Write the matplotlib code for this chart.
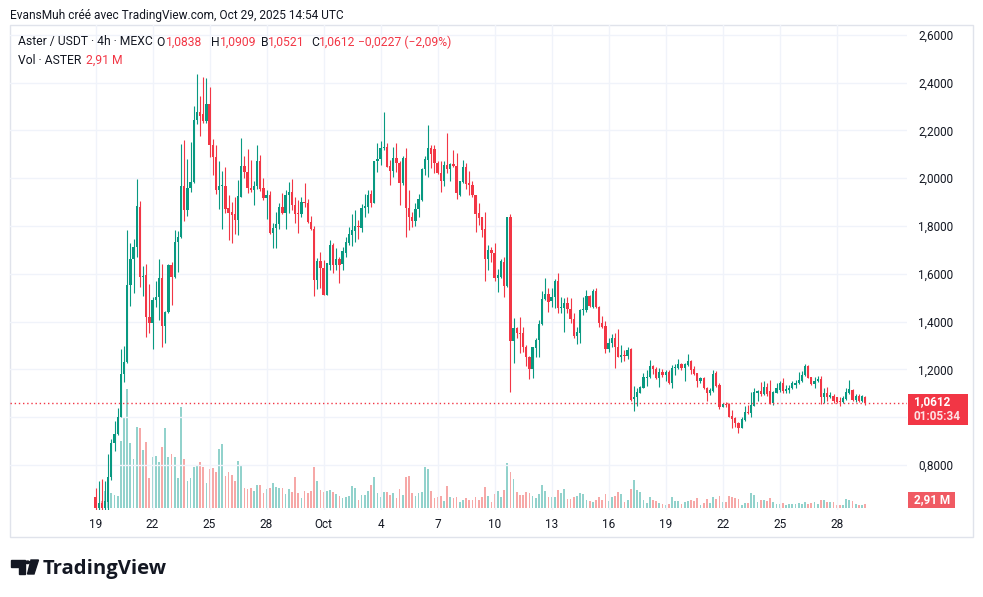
import numpy as np
import matplotlib
matplotlib.use("Agg")
import matplotlib.pyplot as plt
from matplotlib.patches import Rectangle, Polygon, Circle

plt.rcParams['font.family'] = ['Roboto', 'DejaVu Sans']

W, H = 983, 597
UP, DOWN = "#089981", "#F23645"
VOL_UP, VOL_DOWN = "#26A69A", "#EF5350"
TXT = "#131722"
GRID = "#F0F3FA"

# 4h candles, Sep 19 00:00 UTC -> Oct 29 12:00 UTC (MEXC ASTER/USDT)
opens = [
    0.668, 0.620, 0.640, 0.620, 0.647, 0.748, 0.891, 0.930, 1.003, 1.180,
    1.230, 1.554, 1.661, 1.711, 1.880, 1.588, 1.595, 1.418, 1.396, 1.491,
    1.502, 1.581, 1.383, 1.442, 1.637, 1.586, 1.734, 1.753, 1.968, 1.865,
    1.958, 1.985, 2.244, 2.275, 2.269, 2.241, 2.311, 2.139, 2.090, 1.951,
    1.968, 1.968, 1.874, 1.860, 1.850, 1.826, 1.923, 2.051, 2.024, 1.961,
    1.951, 1.968, 2.070, 1.961, 1.919, 1.930, 1.770, 1.791, 1.809, 1.880,
    1.853, 1.930, 1.943, 1.888, 1.856, 1.849, 1.901, 1.895, 1.816, 1.789,
    1.575, 1.654, 1.623, 1.512, 1.637, 1.721, 1.637, 1.661, 1.641, 1.689,
    1.731, 1.763, 1.781, 1.800, 1.793, 1.877, 1.879, 1.934, 1.898, 2.070,
    2.081, 2.127, 2.132, 2.052, 2.032, 2.084, 2.065, 1.979, 2.084, 1.877,
    1.839, 1.823, 1.870, 1.909, 2.038, 2.077, 2.125, 2.121, 2.065, 2.021,
    1.990, 2.056, 2.038, 2.060, 2.051, 1.930, 1.986, 2.045, 1.979, 1.972,
    1.930, 1.853, 1.836, 1.786, 1.662, 1.700, 1.689, 1.584, 1.588, 1.651,
    1.551, 1.839, 1.321, 1.375, 1.351, 1.354, 1.296, 1.254, 1.201, 1.290,
    1.323, 1.389, 1.495, 1.516, 1.488, 1.502, 1.568, 1.456, 1.456, 1.477,
    1.452, 1.410, 1.340, 1.354, 1.449, 1.449, 1.508, 1.463, 1.530, 1.463,
    1.396, 1.382, 1.284, 1.310, 1.332, 1.293, 1.254, 1.261, 1.258, 1.284,
    1.075, 1.084, 1.103, 1.124, 1.165, 1.167, 1.215, 1.201, 1.163, 1.188,
    1.177, 1.188, 1.145, 1.205, 1.205, 1.223, 1.205, 1.219, 1.236, 1.201,
    1.184, 1.153, 1.163, 1.121, 1.103, 1.111, 1.184, 1.135, 1.044, 1.054,
    1.054, 1.005, 0.996, 0.975, 0.957, 0.989, 1.022, 1.017, 1.047, 1.103,
    1.110, 1.096, 1.128, 1.110, 1.061, 1.103, 1.114, 1.145, 1.110, 1.114,
    1.121, 1.135, 1.142, 1.153, 1.177, 1.215, 1.170, 1.139, 1.153, 1.161,
    1.086, 1.103, 1.084, 1.089, 1.084, 1.070, 1.065, 1.075, 1.103, 1.114,
    1.072, 1.089, 1.070, 1.0838,
]
highs = [
    0.706, 0.735, 0.742, 0.735, 0.846, 0.908, 0.984, 1.038, 1.284, 1.298,
    1.784, 1.731, 1.746, 1.997, 1.905, 1.634, 1.641, 1.558, 1.505, 1.568,
    1.662, 1.641, 1.446, 1.641, 1.648, 1.784, 1.781, 2.143, 2.160, 2.081,
    2.153, 2.303, 2.436, 2.344, 2.425, 2.418, 2.383, 2.164, 2.139, 2.072,
    2.031, 2.049, 1.930, 1.902, 1.923, 1.993, 2.167, 2.093, 2.121, 2.077,
    1.990, 2.139, 2.098, 2.000, 1.951, 1.948, 1.812, 1.860, 1.895, 1.937,
    1.951, 1.986, 1.997, 1.923, 1.909, 1.923, 1.982, 1.912, 1.840, 1.802,
    1.665, 1.690, 1.658, 1.647, 1.742, 1.728, 1.707, 1.672, 1.714, 1.753,
    1.798, 1.851, 1.867, 1.825, 1.893, 1.934, 1.951, 1.951, 2.070, 2.146,
    2.157, 2.279, 2.146, 2.077, 2.130, 2.149, 2.074, 2.091, 2.125, 1.951,
    1.860, 1.895, 1.933, 2.042, 2.093, 2.223, 2.139, 2.139, 2.074, 2.070,
    2.070, 2.191, 2.063, 2.118, 2.104, 1.990, 2.077, 2.065, 2.031, 1.990,
    1.930, 1.895, 1.839, 1.860, 1.721, 1.714, 1.731, 1.619, 1.661, 1.669,
    1.839, 1.851, 1.417, 1.379, 1.421, 1.379, 1.303, 1.257, 1.296, 1.333,
    1.407, 1.530, 1.581, 1.540, 1.540, 1.577, 1.605, 1.502, 1.498, 1.502,
    1.498, 1.435, 1.379, 1.452, 1.502, 1.533, 1.512, 1.535, 1.540, 1.466,
    1.424, 1.404, 1.330, 1.349, 1.351, 1.368, 1.302, 1.282, 1.293, 1.289,
    1.131, 1.121, 1.131, 1.184, 1.198, 1.240, 1.219, 1.212, 1.205, 1.202,
    1.198, 1.198, 1.219, 1.223, 1.243, 1.229, 1.226, 1.265, 1.240, 1.215,
    1.187, 1.170, 1.167, 1.128, 1.121, 1.198, 1.195, 1.142, 1.059, 1.065,
    1.059, 1.031, 1.003, 0.982, 1.003, 1.045, 1.051, 1.107, 1.121, 1.114,
    1.149, 1.152, 1.142, 1.156, 1.111, 1.142, 1.153, 1.163, 1.135, 1.135,
    1.153, 1.156, 1.189, 1.195, 1.223, 1.219, 1.170, 1.167, 1.173, 1.173,
    1.121, 1.125, 1.107, 1.098, 1.086, 1.086, 1.089, 1.121, 1.156, 1.117,
    1.096, 1.098, 1.093, 1.0909,
]
lows = [
    0.600, 0.600, 0.600, 0.600, 0.600, 0.738, 0.860, 0.926, 1.000, 1.149,
    1.226, 1.467, 1.521, 1.672, 1.547, 1.508, 1.335, 1.354, 1.284, 1.463,
    1.407, 1.296, 1.309, 1.438, 1.470, 1.584, 1.609, 1.749, 1.823, 1.844,
    1.944, 1.979, 2.227, 2.177, 2.233, 2.230, 2.090, 2.014, 1.934, 1.871,
    1.788, 1.856, 1.742, 1.731, 1.767, 1.763, 1.920, 2.000, 1.937, 1.944,
    1.888, 1.954, 1.948, 1.909, 1.831, 1.767, 1.706, 1.710, 1.786, 1.851,
    1.786, 1.853, 1.867, 1.814, 1.772, 1.839, 1.881, 1.812, 1.784, 1.508,
    1.535, 1.542, 1.512, 1.510, 1.616, 1.605, 1.616, 1.563, 1.616, 1.672,
    1.721, 1.717, 1.735, 1.746, 1.777, 1.839, 1.853, 1.879, 1.895, 2.028,
    2.056, 2.116, 2.046, 1.972, 2.007, 2.024, 1.888, 1.972, 1.756, 1.784,
    1.798, 1.800, 1.839, 1.906, 2.014, 2.004, 2.044, 2.021, 2.018, 1.944,
    1.968, 2.021, 1.990, 2.046, 1.912, 1.926, 1.982, 1.954, 1.930, 1.923,
    1.773, 1.805, 1.756, 1.572, 1.614, 1.651, 1.572, 1.526, 1.581, 1.505,
    1.547, 1.107, 1.226, 1.330, 1.268, 1.275, 1.215, 1.160, 1.166, 1.250,
    1.254, 1.386, 1.491, 1.442, 1.460, 1.456, 1.438, 1.438, 1.358, 1.435,
    1.393, 1.330, 1.305, 1.312, 1.428, 1.442, 1.460, 1.456, 1.456, 1.376,
    1.375, 1.268, 1.275, 1.293, 1.208, 1.251, 1.233, 1.237, 1.242, 1.070,
    1.028, 1.045, 1.100, 1.121, 1.131, 1.163, 1.181, 1.159, 1.128, 1.170,
    1.153, 1.139, 1.121, 1.177, 1.201, 1.198, 1.153, 1.215, 1.181, 1.177,
    1.128, 1.145, 1.118, 1.070, 1.093, 1.107, 1.128, 1.033, 1.042, 1.042,
    1.003, 0.957, 0.961, 0.936, 0.954, 0.986, 1.014, 1.003, 1.045, 1.070,
    1.091, 1.093, 1.089, 1.056, 1.051, 1.100, 1.107, 1.103, 1.100, 1.100,
    1.117, 1.121, 1.139, 1.149, 1.173, 1.163, 1.135, 1.121, 1.149, 1.056,
    1.061, 1.070, 1.079, 1.061, 1.061, 1.045, 1.058, 1.072, 1.098, 1.070,
    1.065, 1.065, 1.065, 1.0521,
]
closes = [
    0.620, 0.640, 0.620, 0.650, 0.752, 0.891, 0.930, 1.003, 1.181, 1.230,
    1.554, 1.661, 1.711, 1.885, 1.588, 1.592, 1.418, 1.396, 1.491, 1.502,
    1.581, 1.383, 1.442, 1.637, 1.586, 1.734, 1.753, 1.968, 1.865, 1.958,
    1.985, 2.244, 2.275, 2.261, 2.241, 2.311, 2.139, 2.090, 1.951, 1.968,
    1.970, 1.871, 1.856, 1.846, 1.826, 1.926, 2.051, 2.024, 1.958, 1.951,
    1.968, 2.070, 1.954, 1.919, 1.930, 1.770, 1.791, 1.809, 1.880, 1.853,
    1.930, 1.943, 1.886, 1.851, 1.849, 1.901, 1.895, 1.816, 1.789, 1.575,
    1.654, 1.623, 1.512, 1.647, 1.721, 1.637, 1.661, 1.637, 1.696, 1.734,
    1.767, 1.784, 1.800, 1.798, 1.877, 1.884, 1.930, 1.898, 2.070, 2.081,
    2.127, 2.132, 2.049, 2.032, 2.084, 2.063, 1.982, 2.084, 1.877, 1.839,
    1.823, 1.872, 1.912, 2.039, 2.079, 2.125, 2.102, 2.063, 2.021, 1.990,
    2.056, 2.038, 2.060, 2.051, 1.937, 1.989, 2.045, 1.976, 1.972, 1.930,
    1.851, 1.832, 1.784, 1.662, 1.700, 1.686, 1.584, 1.595, 1.654, 1.551,
    1.839, 1.321, 1.375, 1.351, 1.349, 1.293, 1.254, 1.201, 1.293, 1.323,
    1.389, 1.495, 1.516, 1.484, 1.502, 1.568, 1.456, 1.458, 1.477, 1.452,
    1.410, 1.340, 1.358, 1.449, 1.452, 1.508, 1.466, 1.530, 1.463, 1.393,
    1.379, 1.284, 1.310, 1.332, 1.293, 1.254, 1.261, 1.258, 1.282, 1.072,
    1.086, 1.107, 1.128, 1.167, 1.170, 1.215, 1.201, 1.163, 1.188, 1.177,
    1.188, 1.145, 1.205, 1.209, 1.223, 1.205, 1.223, 1.236, 1.198, 1.181,
    1.153, 1.163, 1.121, 1.103, 1.114, 1.181, 1.131, 1.044, 1.054, 1.051,
    1.003, 0.993, 0.975, 0.957, 0.993, 1.022, 1.017, 1.051, 1.104, 1.110,
    1.096, 1.128, 1.096, 1.061, 1.107, 1.121, 1.145, 1.110, 1.117, 1.121,
    1.142, 1.145, 1.156, 1.177, 1.215, 1.166, 1.139, 1.153, 1.161, 1.086,
    1.103, 1.084, 1.093, 1.070, 1.065, 1.063, 1.079, 1.107, 1.117, 1.072,
    1.089, 1.070, 1.089, 1.0612,
]
# volume in millions ASTER
volumes = [
    2.0, 2.3, 5.0, 11.8, 7.9, 10.7, 9.1, 8.4, 45.9, 62.4,
    81.0, 44.3, 33.6, 55.2, 54.5, 39.7, 44.9, 20.4, 34.7, 35.6,
    31.3, 41.5, 54.5, 34.7, 37.0, 34.7, 20.4, 69.2, 33.6, 18.6,
    20.4, 27.9, 28.8, 31.8, 28.4, 17.5, 26.8, 27.7, 24.5, 40.4,
    43.8, 22.0, 24.5, 22.7, 18.6, 32.2, 29.5, 14.1, 12.9, 13.6,
    11.8, 15.9, 15.9, 10.7, 13.2, 14.1, 17.0, 14.8, 14.1, 14.1,
    9.8, 13.2, 11.1, 21.6, 10.7, 7.3, 11.8, 10.2, 11.8, 28.4,
    18.6, 12.5, 11.4, 11.8, 12.5, 10.9, 9.8, 8.6, 7.3, 7.9,
    8.4, 15.2, 13.8, 5.7, 9.1, 9.1, 11.8, 15.9, 21.6, 10.7,
    7.9, 10.9, 10.9, 9.1, 10.7, 7.3, 13.2, 9.1, 21.6, 22.0,
    10.7, 8.4, 10.2, 10.9, 28.4, 26.6, 11.8, 7.3, 7.9, 8.4,
    5.2, 15.4, 7.9, 7.3, 7.9, 4.5, 5.7, 7.3, 5.7, 5.7,
    7.9, 5.7, 7.9, 14.8, 8.4, 4.5, 9.5, 11.8, 7.9, 12.5,
    31.1, 25.0, 20.0, 10.9, 9.1, 9.1, 10.9, 10.2, 8.6, 7.3,
    9.8, 15.9, 11.8, 7.9, 7.9, 7.9, 12.5, 10.7, 13.2, 6.4,
    6.4, 7.9, 8.4, 10.7, 9.8, 5.7, 5.0, 4.5, 5.7, 7.9,
    5.7, 9.8, 5.0, 7.5, 8.6, 10.9, 9.8, 4.5, 5.7, 13.2,
    19.3, 12.5, 11.4, 5.7, 3.9, 7.9, 5.7, 5.2, 3.9, 3.0,
    2.3, 3.0, 7.5, 5.0, 5.0, 3.0, 4.1, 5.0, 5.7, 5.0,
    7.3, 2.3, 3.4, 6.1, 3.9, 7.5, 6.1, 8.4, 4.1, 4.1,
    8.4, 7.5, 6.8, 6.1, 2.3, 3.4, 3.4, 10.2, 9.1, 4.1,
    5.7, 5.7, 5.0, 7.3, 4.1, 3.0, 3.0, 3.4, 2.3, 3.0,
    3.0, 3.0, 3.4, 3.0, 4.1, 2.7, 3.4, 4.1, 3.0, 5.7,
    5.7, 4.1, 4.1, 4.1, 2.3, 2.3, 2.3, 6.1, 5.7, 5.0,
    2.7, 2.3, 2.3, 2.91,
]

# day ticks: candle index of each labelled day (6 candles per day)
tick_idx = [0, 18, 36, 54, 72, 90, 108, 126, 144, 162, 180, 198, 216, 234]
tick_lbl = ["19", "22", "25", "28", "Oct", "4", "7", "10", "13", "16",
            "19", "22", "25", "28"]
price_ticks = [0.8, 1.0, 1.2, 1.4, 1.6, 1.8, 2.0, 2.2, 2.4, 2.6]


def fx(px):
    return px / W


def fy(py):
    return 1 - py / H


o = np.array(opens)
h = np.array(highs)
l = np.array(lows)
c = np.array(closes)
v = np.array(volumes)
x = np.arange(len(o))
up = c >= o

fig = plt.figure(figsize=(W / 100, H / 100), dpi=100)
fig.patch.set_facecolor("white")

rect = [fx(10), fy(510), fx(907) - fx(10), fy(25) - fy(510)]
ax = fig.add_axes(rect)
axv = ax.twinx()
ax.set_zorder(axv.get_zorder() + 1)
ax.patch.set_visible(False)
axv.set_facecolor("white")

# --- volume overlay ---
axv.bar(x, v, width=0.55, color=np.where(up, VOL_UP, VOL_DOWN), alpha=0.5,
        linewidth=0)
axv.set_ylim(-1.16, 328.6)
axv.set_yticks([])
for s in axv.spines.values():
    s.set_visible(False)

# --- candles ---
cols = np.where(up, UP, DOWN)
ax.vlines(x, l, h, colors=cols, linewidth=0.8, zorder=3)
body = np.maximum(np.abs(c - o), 0.004)
ax.bar(x, body, bottom=np.minimum(o, c), width=0.72, color=cols,
       linewidth=0, zorder=4)

ax.axhline(c[-1], color=DOWN, linestyle=(0, (1, 2)), linewidth=1, zorder=5)

ax.set_xlim(-27.0, 256.2)
ax.set_ylim(0.612, 2.641)
ax.set_yticks(price_ticks)
ax.set_yticklabels(["" if abs(p - 1.0) < 1e-9 else f"{p:.4f}".replace(".", ",")
                    for p in price_ticks])
ax.yaxis.tick_right()
ax.tick_params(axis="y", length=0, pad=8, labelsize=8.5, labelcolor=TXT)
ax.set_xticks(tick_idx)
ax.set_xticklabels(tick_lbl)
ax.tick_params(axis="x", length=0, pad=6, labelsize=8.5, labelcolor=TXT)
ax.grid(True, color=GRID, linewidth=1)
ax.set_axisbelow(True)
for s in ax.spines.values():
    s.set_visible(False)

# --- frame ---
fig.add_artist(Rectangle((fx(10), fy(537)), fx(973) - fx(10), fy(25) - fy(537),
                         transform=fig.transFigure, fill=False,
                         edgecolor="#E0E3EB", linewidth=1))

# --- header & legend ---
fig.text(fx(10), fy(15), "EvansMuh créé avec TradingView.com, Oct 29, 2025 14:54 UTC",
         fontsize=8.6, color=TXT, va="center")
leg = [(18, "Aster / USDT · 4h · MEXC", TXT), (156, "O", TXT), (166, "1,0838", DOWN),
       (211, "H", TXT), (220, "1,0909", DOWN), (261, "B", TXT), (268, "1,0521", DOWN),
       (311, "C", TXT), (319, "1,0612", DOWN), (358, "\u22120,0227 (\u22122,09%)", DOWN)]
for px, s, col in leg:
    fig.text(fx(px), fy(42), s, fontsize=8.7, color=col, va="center")
fig.text(fx(18), fy(60), "Vol · ASTER", fontsize=8.7, color=TXT, va="center")
fig.text(fx(86), fy(60), "2,91 M", fontsize=8.7, color=DOWN, va="center")

# --- price / volume tags on the right scale ---
fig.add_artist(Rectangle((fx(908), fy(425)), fx(968) - fx(908), fy(394) - fy(425),
                         transform=fig.transFigure, color=DOWN, linewidth=0))
fig.text(fx(914), fy(402), f"{c[-1]:.4f}".replace(".", ","), fontsize=8.5,
         color="white", va="center", fontweight="bold")
fig.text(fx(914), fy(416), "01:05:34", fontsize=8.5, color="#FDE3E5", va="center",
         fontweight="bold")
fig.add_artist(Rectangle((fx(908), fy(508)), fx(955) - fx(908), fy(492) - fy(508),
                         transform=fig.transFigure, color="#F05A63", linewidth=0))
fig.text(fx(914), fy(500), "2,91 M", fontsize=8.5, color="white", va="center",
         fontweight="bold")

# --- TradingView logo ---
fig.add_artist(Polygon([(fx(11), fy(560)), (fx(25), fy(560)), (fx(25), fy(574)),
                        (fx(19), fy(574)), (fx(19), fy(567)), (fx(11), fy(567))],
                       closed=True, transform=fig.transFigure, color=TXT))
fig.add_artist(Circle((fx(27.6), fy(562.3)), 2.1 / W, transform=fig.transFigure,
                      color=TXT))
fig.add_artist(Polygon([(fx(31), fy(560)), (fx(38.5), fy(560)), (fx(34), fy(574)),
                        (fx(27.5), fy(574))], closed=True,
                       transform=fig.transFigure, color=TXT))
fig.text(fx(43), fy(574), "TradingView", fontsize=14.6, fontweight="bold",
         family="Open Sans", color=TXT, va="baseline")

fig.savefig("out.png", dpi=100, facecolor="white")
